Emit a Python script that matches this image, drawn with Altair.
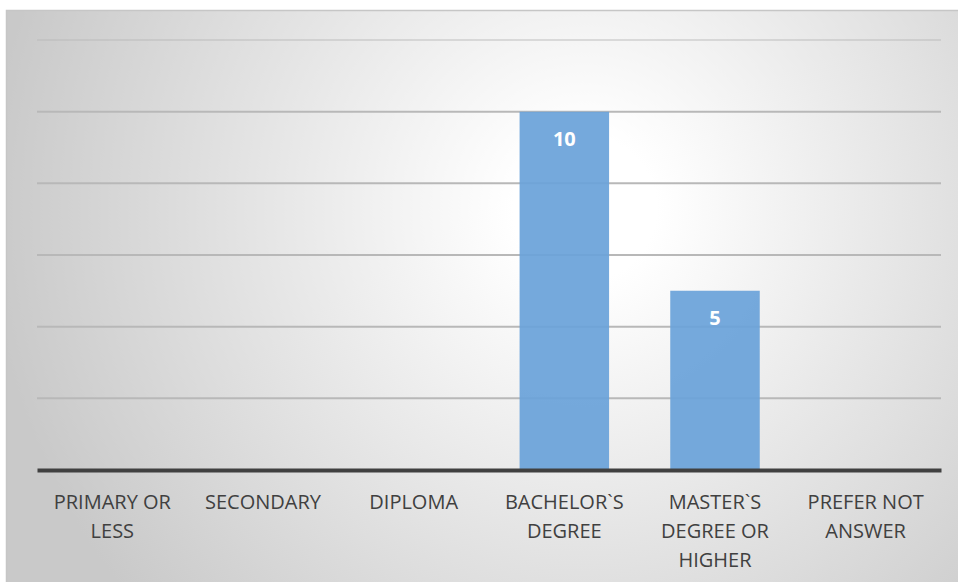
import altair as alt
import pandas as pd

categories = ["PRIMARY OR LESS", "SECONDARY", "DIPLOMA", "BACHELOR`S DEGREE",
              "MASTER`S DEGREE OR HIGHER", "PREFER NOT ANSWER"]
counts = [0, 0, 0, 10, 5, 0]
label_lines = [["PRIMARY OR", "LESS"], ["SECONDARY"], ["DIPLOMA"],
               ["BACHELOR`S", "DEGREE"], ["MASTER`S", "DEGREE OR", "HIGHER"],
               ["PREFER NOT", "ANSWER"]]
grid_values = [2, 4, 6, 8, 10, 12]

W, H = 904, 430

df = pd.DataFrame({"category": categories, "count": counts})
grid_df = pd.DataFrame({"value": grid_values})

def js_list(items):
    return "[" + ",".join("'" + s + "'" for s in items) + "]"

label_expr = ("[" + ",".join(js_list(l) for l in label_lines) + "]"
              "[indexof(" + js_list(categories) + ", datum.label)]")

xscale = alt.Scale(domain=categories, paddingInner=0.406, paddingOuter=0.203)
yscale = alt.Scale(domain=[0, 12], nice=False)

bg = alt.Chart(pd.DataFrame({"k": [0]})).mark_rect(
    fill=alt.RadialGradient(
        gradient="radial",
        stops=[alt.GradientStop(color="#ffffff", offset=0),
               alt.GradientStop(color="#ffffff", offset=0.12),
               alt.GradientStop(color="#c9c9c9", offset=1)],
        x1=0.6, y1=0.4, r1=0, x2=0.6, y2=0.4, r2=0.62),
    stroke="#c6c6c6", strokeWidth=1.5,
).encode(x=alt.value(-30.5), x2=alt.value(W + 30),
         y=alt.value(-29.5), y2=alt.value(H + 130))

grid = alt.Chart(grid_df).mark_rule(color="#b8b8b8", strokeWidth=2).encode(
    y=alt.Y("value:Q", scale=yscale, axis=None),
    x=alt.value(0), x2=alt.value(W),
    opacity=alt.condition("datum.value == 12", alt.value(0.45), alt.value(1)),
)

bars = alt.Chart(df).mark_bar(color="#6aa3d9", opacity=0.93).encode(
    x=alt.X("category:N", sort=categories, scale=xscale,
            axis=alt.Axis(title=None, ticks=False, domainColor="#404040",
                          domainWidth=4, labelAngle=0, labelFont="Open Sans",
                          labelFontSize=20, labelColor="#404040",
                          labelBaseline="alphabetic", labelPadding=38,
                          labelLineHeight=29, labelExpr=label_expr,
                          labelLimit=0, zindex=1)),
    y=alt.Y("count:Q", scale=yscale, axis=None),
)

labels = alt.Chart(df).transform_filter("datum.count > 0").mark_text(
    color="#ffffff", font="Open Sans", fontSize=20, fontWeight="bold",
    baseline="middle", dy=28,
).encode(
    x=alt.X("category:N", sort=categories, scale=xscale),
    y=alt.Y("count:Q", scale=yscale),
    text="count:Q",
)

chart = alt.layer(bg, grid, bars, labels).properties(
    width=W, height=H,
    autosize=alt.AutoSizeParams(type="none"),
    padding={"left": 37, "top": 40, "right": 17, "bottom": 112},
    background="#ffffff",
).configure_view(stroke=None)

chart.save("out.html", embed_options={"renderer": "svg", "actions": False})
